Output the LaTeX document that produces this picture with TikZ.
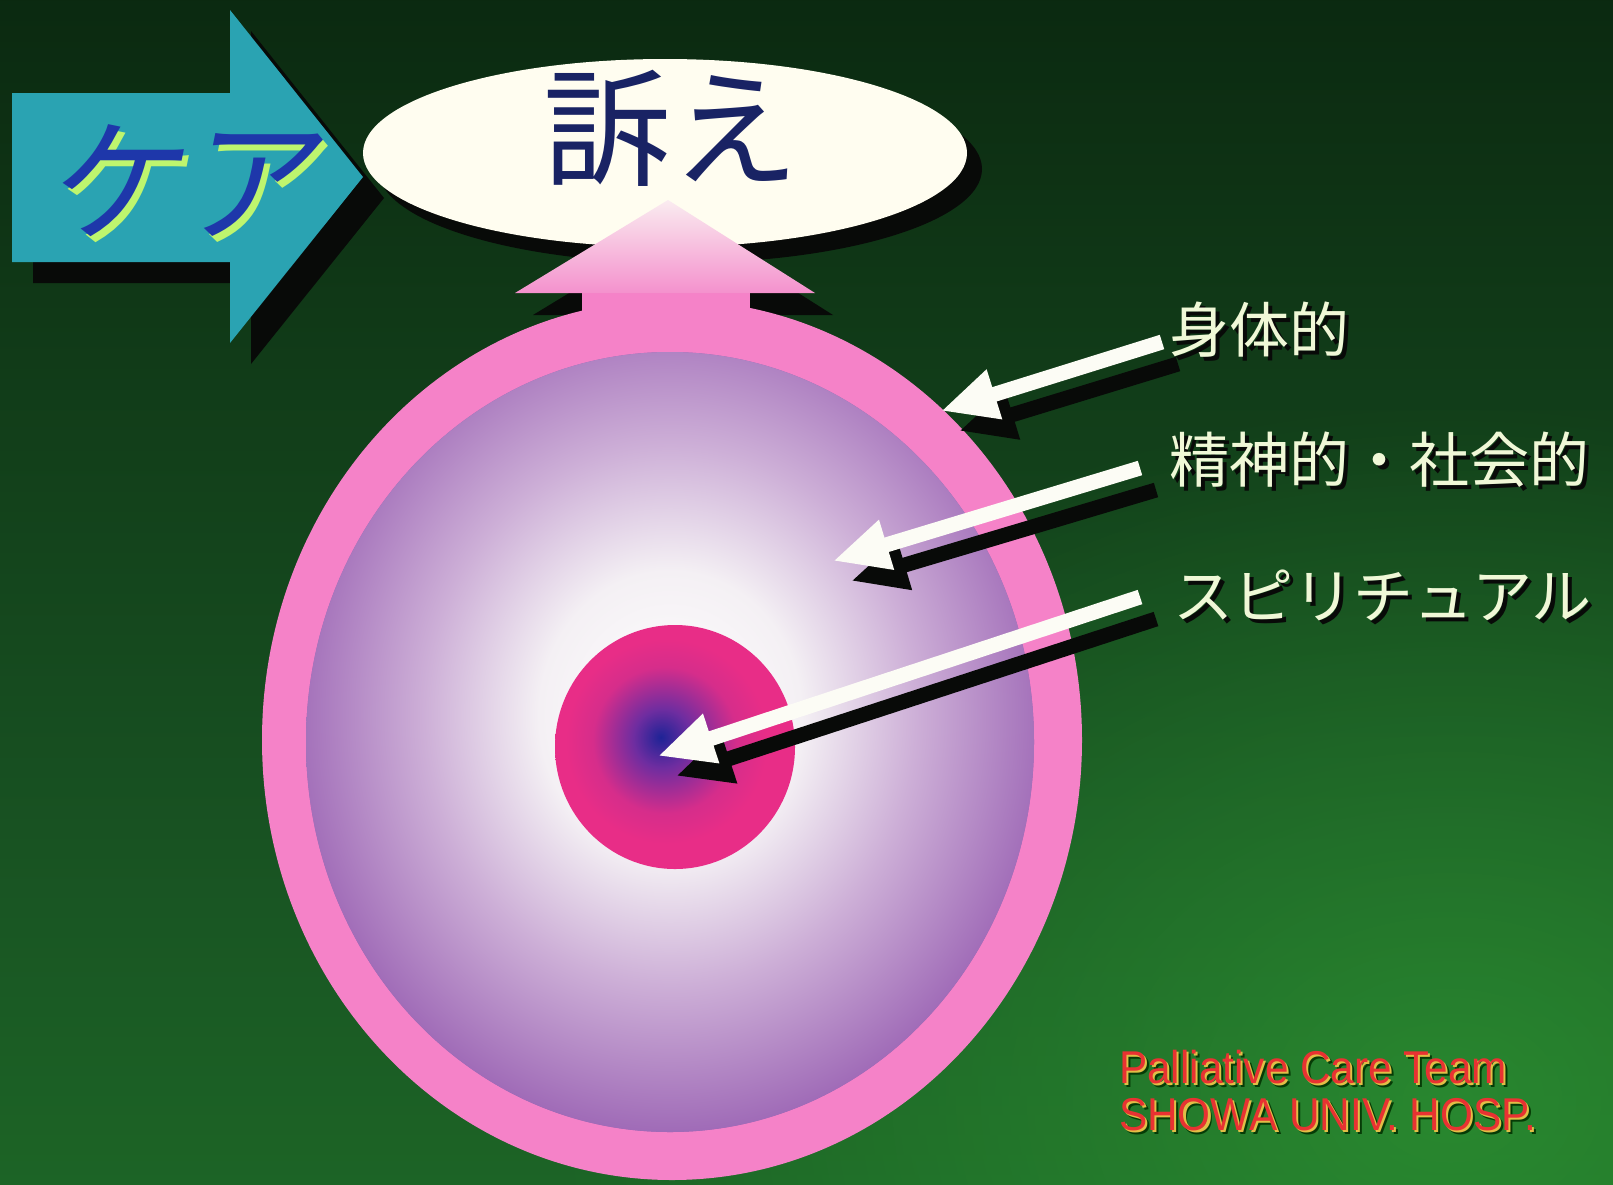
\documentclass[tikz,border=0pt]{standalone}
\usepackage{fontspec}
\usetikzlibrary{shapes.geometric,arrows.meta,calc,fadings}
\newfontfamily\jp{Noto Sans CJK JP}
\newfontfamily\jpsl[FakeSlant=0.2]{Noto Sans CJK JP}
\newfontfamily\enf[FakeStretch=0.92]{Liberation Sans}
\definecolor{bgtop}{RGB}{5,16,8}
\definecolor{bgdark}{RGB}{10,38,15}
\definecolor{bgmid}{RGB}{24,82,34}
\definecolor{bgbot}{RGB}{36,130,44}
\definecolor{bglight}{RGB}{52,168,56}
\definecolor{tealc}{RGB}{42,163,178}
\definecolor{shc}{RGB}{8,10,8}
\definecolor{cream}{RGB}{255,253,240}
\definecolor{navyt}{RGB}{25,35,100}
\definecolor{kblue}{RGB}{30,55,170}
\definecolor{kgreen}{RGB}{190,245,110}
\definecolor{pinkc}{RGB}{245,130,200}
\definecolor{pinktop}{RGB}{250,236,240}
\definecolor{pinkhead}{RGB}{244,145,205}
\definecolor{purp}{RGB}{155,100,180}
\definecolor{lav}{RGB}{205,175,215}
\definecolor{glowc}{RGB}{244,240,244}
\definecolor{navyc}{RGB}{30,35,150}
\definecolor{violc}{RGB}{110,45,160}
\definecolor{magc}{RGB}{232,45,135}
\definecolor{arrw}{RGB}{252,252,245}
\definecolor{lblc}{RGB}{240,248,215}
\definecolor{redt}{RGB}{232,50,50}
\definecolor{yelt}{RGB}{225,190,70}
\pgfdeclareverticalshading{bgshade}{100bp}{color(0bp)=(bgbot); color(40bp)=(bgmid); color(78bp)=(bgdark); color(100bp)=(bgtop)}
\pgfdeclareradialshading{glow}{\pgfpoint{0bp}{0bp}}{color(0bp)=(white); color(8bp)=(glowc); color(15bp)=(lav); color(24bp)=(purp); color(50bp)=(purp)}
\pgfdeclareradialshading{core}{\pgfpoint{-3bp}{2bp}}{color(0bp)=(navyc); color(6bp)=(violc); color(15bp)=(magc!85!violc); color(21bp)=(magc); color(50bp)=(magc)}
\tikzfading[name=softglow, inner color=transparent!0, outer color=transparent!100]
\begin{document}
\begin{tikzpicture}[x=1pt,y=-1pt,
  lbl/.style={font=\jp\fontsize{60}{60}\selectfont, text=lblc, inner sep=0, anchor=west},
  lblsh/.style={lbl, text=shc},
  warr/.style={draw=arrw, line width=15pt, -{Triangle[length=56pt,width=48pt]}},
  barr/.style={draw=shc, line width=15pt, -{Triangle[length=56pt,width=48pt]}},
  en/.style={font=\enf\fontsize{46}{50}\selectfont, inner sep=0, anchor=base west},
  oval/.style={ellipse, inner sep=0}]
\useasboundingbox (0,0) rectangle (1613,1184);
% background
\begin{scope}
\clip (0,0) rectangle (1613,1184);
\shade[shading=bgshade] (0,0) rectangle (1613,1184);
\fill[bglight, path fading=softglow, fill opacity=0.55] (1450,1100) ellipse [x radius=900pt, y radius=700pt];
\end{scope}
% care arrow
\fill[shc] (33,114) -- (251,114) -- (251,31) -- (384,198) -- (251,364) -- (251,283) -- (33,283) -- cycle;
\fill[tealc] (12,93) -- (230,93) -- (230,10) -- (363,177) -- (230,343) -- (230,262) -- (12,262) -- cycle;
\node[font=\jpsl\fontsize{135}{135}\selectfont, text=kgreen, inner sep=0] (careS) at (184,187) {ケア};
\node[font=\jpsl\fontsize{135}{135}\selectfont, text=kblue, inner sep=0] (care) at (179,181) {ケア};
% complaint oval
\node[oval, fill=shc, minimum width=604pt, minimum height=188pt] (ovalS) at (680,169) {};
\node[oval, fill=cream, minimum width=604pt, minimum height=188pt] (ovalW) at (665,153) {};
% pink arrow head shadow
\fill[shc] (686,222) -- (833,315) -- (533,315) -- cycle;
% outer pink
\node[oval, fill=pinkc, minimum width=820pt, minimum height=880pt] (outer) at (672,740) {};
\fill[pinkc] (582,290) rectangle (750,420);
\shade[top color=pinktop, bottom color=pinkhead] (668,200) -- (815,293) -- (515,293) -- cycle;
% middle purple
\node[oval, fill=purp, minimum width=728pt, minimum height=780pt] (mid) at (670,742) {};
\begin{scope}
\clip (670,742) ellipse [x radius=364pt, y radius=390pt];
\shade[shading=glow] (670,715) ellipse [x radius=410pt, y radius=450pt];
\end{scope}
% core
\node[oval, minimum width=240pt, minimum height=244pt] (core) at (675,747) {};
\shade[shading=core] (675,747) ellipse [x radius=120pt, y radius=122pt];
% text in oval
\node[font=\jp\fontsize{128}{128}\selectfont, text=navyt, inner sep=0] (uttae) at (671,128) {訴え};
% arrows
\coordinate (s1) at (1162,342);
\coordinate (t1) at (941,411);
\coordinate (s2) at (1140,468);
\coordinate (t2) at (833,561);
\coordinate (s3) at (1140,597);
\coordinate (t3) at (658,756);
\draw[barr] ($(s1)+(16,22)$) -- ($(t1)+(18,20)$);
\draw[barr] ($(s2)+(16,22)$) -- ($(t2)+(18,20)$);
\draw[barr] ($(s3)+(16,22)$) -- ($(t3)+(18,20)$);
\draw[warr] (s1) -- (t1);
\draw[warr] (s2) -- (t2);
\draw[warr] (s3) -- (t3);
% labels
\node[lblsh] (l1s) at (1173,334) {身体的};
\node[lbl] (l1) at (1169,330) {身体的};
\node[lblsh] (l2s) at (1173,464) {精神的・社会的};
\node[lbl] (l2) at (1169,460) {精神的・社会的};
\node[lblsh] (l3s) at (1177,599) {スピリチュアル};
\node[lbl] (l3) at (1173,595) {スピリチュアル};
% footer
\node[en, text=shc!80!green] (f1s) at (1123,1087) {Palliative Care Team};
\node[en, text=yelt] (f1y) at (1121,1085) {Palliative Care Team};
\node[en, text=redt] (f1) at (1119,1083) {Palliative Care Team};
\node[en, text=shc!80!green] (f2s) at (1123,1134) {SHOWA UNIV. HOSP.};
\node[en, text=yelt] (f2y) at (1121,1132) {SHOWA UNIV. HOSP.};
\node[en, text=redt] (f2) at (1119,1130) {SHOWA UNIV. HOSP.};
\end{tikzpicture}
\end{document}
